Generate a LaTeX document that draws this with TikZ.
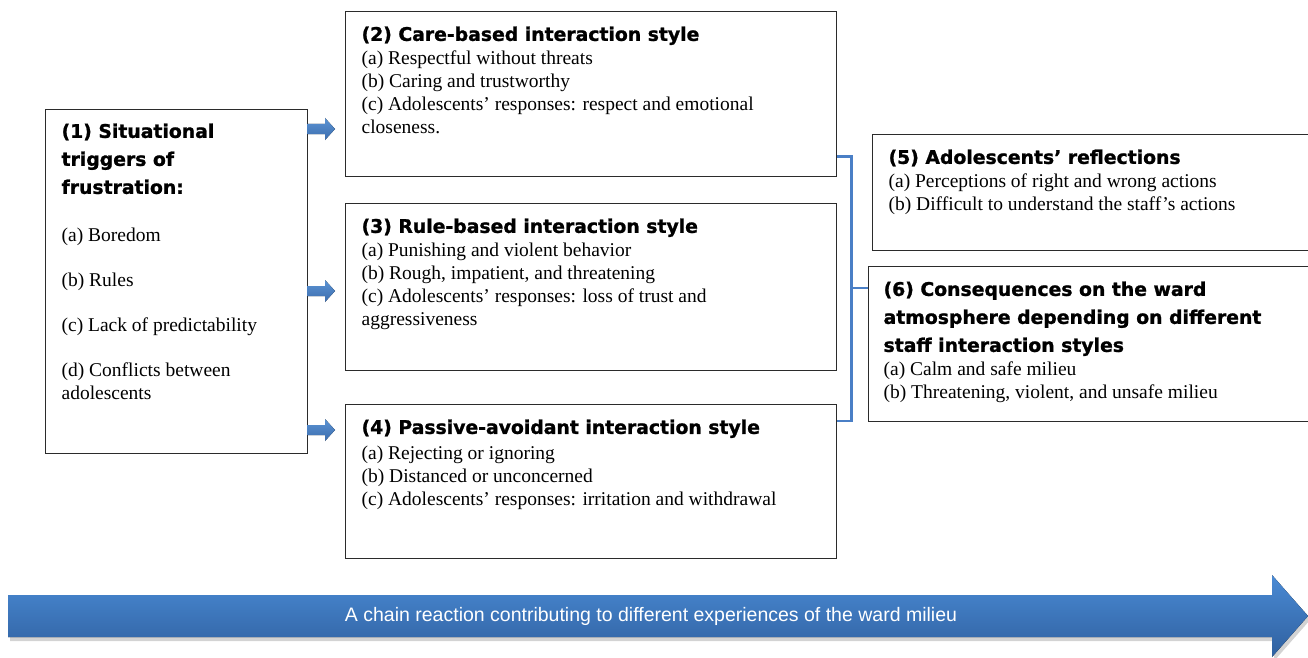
\documentclass[tikz,border=0pt]{standalone}
\usepackage{fontspec}
\setmainfont{Liberation Serif}
\setsansfont{Liberation Sans}
\newfontfamily\headfont{DejaVu Sans}[BoldFeatures={FakeBold=1.2}]
\usetikzlibrary{calc,shadows,positioning}
\definecolor{boxline}{HTML}{2B2B2B}
\definecolor{arrowtop}{HTML}{5B93D3}
\definecolor{arrowbot}{HTML}{3C6DAE}
\definecolor{bracket}{HTML}{4A7FC6}
\definecolor{bandtop}{HTML}{4A8AD4}
\definecolor{bandbot}{HTML}{2F609F}
\newcommand{\head}[1]{{\headfont\bfseries\fontsize{18.8}{28}\selectfont #1\par}\vspace{1pt}}
\newcommand{\panel}[3]{\begin{minipage}[t][#2][t]{#1}\raggedright\fontsize{19.5}{23}\selectfont #3\end{minipage}}
% small block arrow leaving box (1)
\newcommand{\feedarrow}[1]{\fill[feed] ($(#1)+(0,-5)$) -- ++(18,0) -- ++(0,-6) -- ++(10,11) -- ++(-10,11) -- ++(0,-6) -- ++(-18,0) -- cycle;}
\tikzset{
  panel/.style={draw=boxline, line width=1.2pt, anchor=north west, fill=white,
                inner xsep=16pt, inner ysep=15pt},
  feed/.style={top color=arrowtop, bottom color=arrowbot},
  link/.style={draw=bracket, line width=2.8pt},
  band/.style={top color=bandtop, bottom color=bandbot,
               drop shadow={shadow xshift=2pt, shadow yshift=-4pt, opacity=0.35}},
  bandlabel/.style={font=\sffamily\fontsize{19.5}{22}\selectfont, text=white}
}

\begin{document}
\begin{tikzpicture}[x=1pt,y=-1pt]
  \useasboundingbox (0,0) rectangle (1308,658);

  \node[panel, inner ysep=14pt] (b1) at (45,109) {\panel{230pt}{316pt}{%
    \head{(1) Situational\\triggers of\\frustration:}
    \vspace{24pt}
    (a) Boredom\par\vspace{22pt}
    (b) Rules\par\vspace{22pt}
    (c) Lack of predictability\par\vspace{22pt}
    (d) Conflicts between\\adolescents}};

  \node[panel] (b2) at (345,11) {\panel{459pt}{135pt}{%
    \head{(2) Care-based interaction style}
    (a) Respectful without threats\\
    (b) Caring and trustworthy\\
    (c) Adolescents’ responses: respect and emotional\\
    closeness.}};

  \node[panel] (b3) at (345,203) {\panel{459pt}{137pt}{%
    \head{(3) Rule-based interaction style}
    (a) Punishing and violent behavior\\
    (b) Rough, impatient, and threatening\\
    (c) Adolescents’ responses: loss of trust and\\
    aggressiveness}};

  \node[panel] (b4) at (345,404) {\panel{459pt}{124pt}{%
    \head{(4) Passive-avoidant interaction style}
    \vspace{2pt}
    (a) Rejecting or ignoring\\
    (b) Distanced or unconcerned\\
    (c) Adolescents’ responses: irritation and withdrawal}};

  \node[panel] (b5) at (872,134) {\panel{408pt}{86pt}{%
    \head{(5) Adolescents’ reflections}
    (a) Perceptions of right and wrong actions\\
    (b) Difficult to understand the staff’s actions}};

  \node[panel, inner xsep=15pt] (b6) at (868,266) {\panel{414pt}{125pt}{%
    \head{(6) Consequences on the ward\\atmosphere depending on different\\staff interaction styles}
    (a) Calm and safe milieu\\
    (b) Threatening, violent, and unsafe milieu}};

  % arrows from (1) to the three styles
  \coordinate (f2) at (307,129);
  \coordinate (f3) at (307,291);
  \coordinate (f4) at (307,430);
  \feedarrow{f2}
  \feedarrow{f3}
  \feedarrow{f4}

  % bracket joining the styles to (6)
  \coordinate (k2) at ($(b2.south east)+(0,-21)$);
  \coordinate (k4) at (b4.east |- 0,421);
  \draw[link] (k2) -- ++(14,0) coordinate (top) -- (top |- k4) -- (k4);
  \draw[link] (top |- 0,288) -- (b6.west |- 0,288);

  % chain reaction band
  \fill[band] (8,595) -- (1272,595) -- (1272,575) -- (1308,616)
    -- (1272,657) -- (1272,637) -- (8,637) -- cycle;
  \node[bandlabel] (chain) at (651,616)
    {A chain reaction contributing to different experiences of the ward milieu};
\end{tikzpicture}
\end{document}
